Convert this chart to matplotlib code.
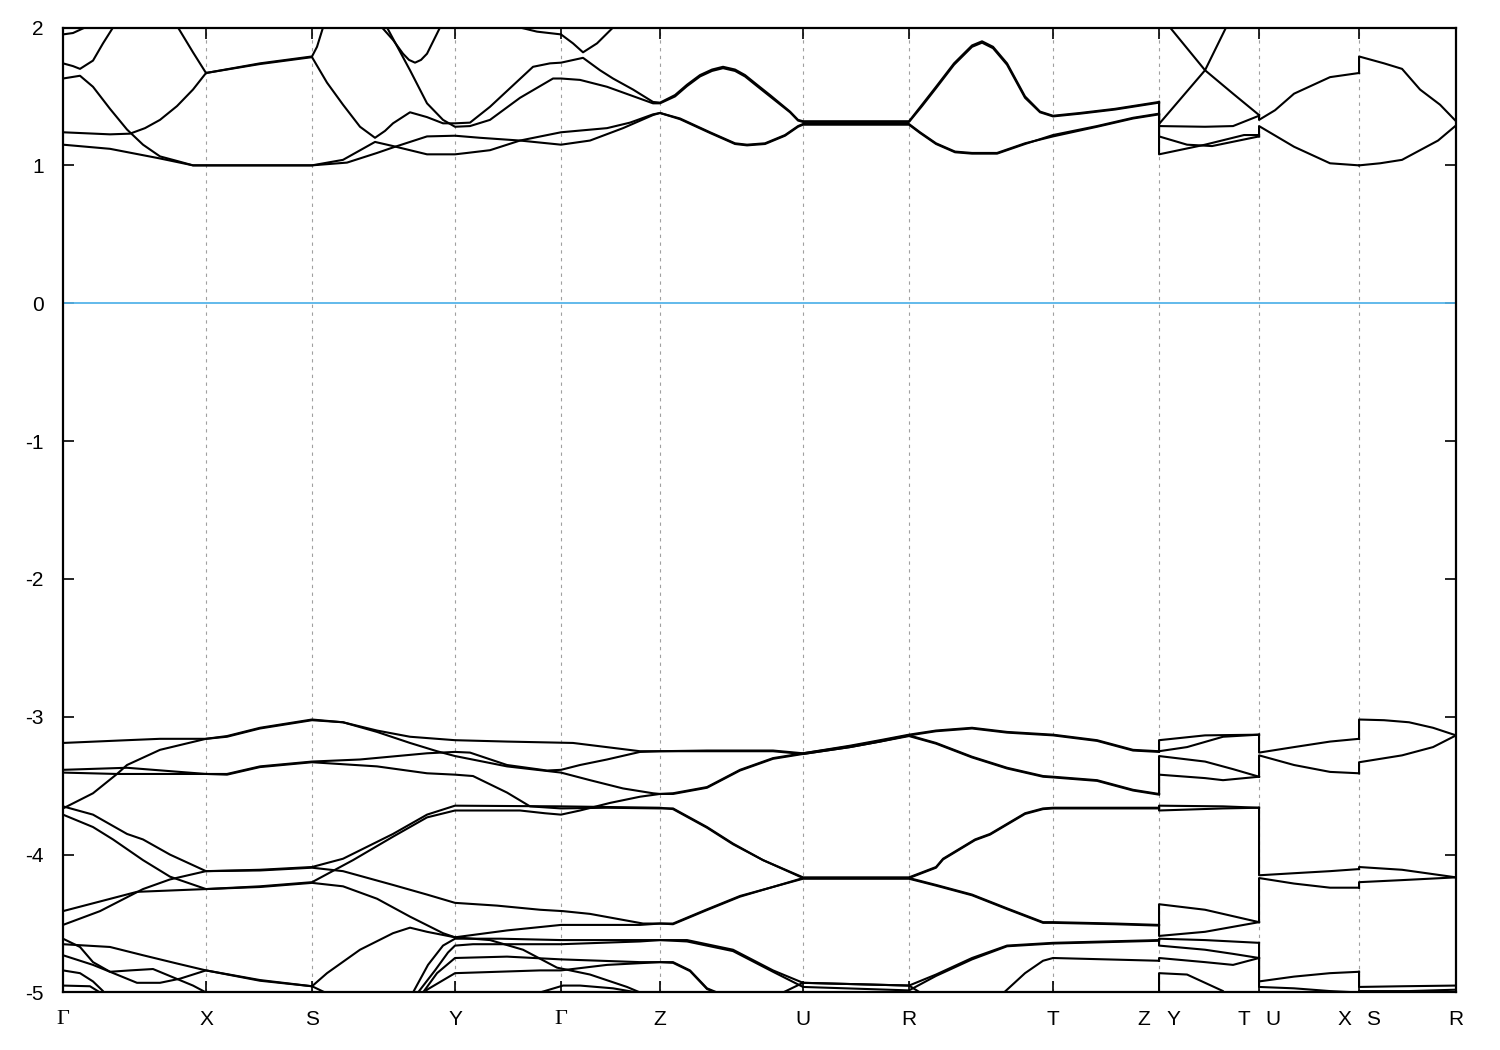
import matplotlib
matplotlib.use("Agg")
import matplotlib.pyplot as plt

# high-symmetry points along the k-path (path distance, arbitrary units)
kpts = [0, 143, 249, 392, 498, 597, 740, 846, 990, 1096, 1196, 1296, 1393]
klabels = ["Γ", "X", "S", "Y", "Γ", "Z", "U", "R", "T", ("Z", "Y"), ("T", "U"), ("X", "S"), "R"]

# ---- conduction bands (eV), path Γ-X-S-Y-Γ-Z-U-R-T-Z ----
cond_A = [
    ([0, 10, 22, 30], [1.95, 1.96, 2.00, 2.05]),
    ([0, 10, 17, 30, 40, 50, 55], [1.74, 1.72, 1.70, 1.76, 1.885, 2.00, 2.05]),
    ([0, 17, 30, 47, 64, 80, 97, 115, 130, 143, 249, 284, 314, 330, 364, 392, 417, 457, 498, 527, 560, 590, 597,
      617, 647, 672, 684, 702, 722, 735, 740, 846, 857, 873, 892, 909, 934, 962, 990, 1034, 1070, 1096],
     [1.63, 1.65, 1.57, 1.41, 1.26, 1.15, 1.065, 1.03, 1.00, 1.00, 1.00, 1.02, 1.09, 1.13, 1.21, 1.215, 1.20, 1.18,
      1.15, 1.18, 1.27, 1.365, 1.38, 1.34, 1.24, 1.16, 1.15, 1.16, 1.22, 1.285, 1.30, 1.30, 1.24, 1.16, 1.10, 1.09,
      1.09, 1.16, 1.21, 1.28, 1.34, 1.37]),
    ([0, 47, 97, 130, 143, 249, 280, 312, 330, 364, 392, 404, 427, 457, 498, 544, 567, 590, 597, 617, 647, 672, 684,
      702, 722, 735, 740, 846, 857, 873, 892, 909, 934, 962, 990, 1034, 1070, 1096],
     [1.15, 1.12, 1.05, 1.00, 1.00, 1.00, 1.04, 1.17, 1.14, 1.08, 1.08, 1.09, 1.11, 1.18, 1.24, 1.27, 1.31, 1.37,
      1.38, 1.335, 1.235, 1.155, 1.145, 1.155, 1.215, 1.28, 1.295, 1.295, 1.235, 1.155, 1.095, 1.085, 1.085, 1.155,
      1.22, 1.285, 1.345, 1.375]),
    ([0, 47, 67, 82, 97, 114, 130, 143, 197, 249, 254, 260, 262],
     [1.24, 1.225, 1.23, 1.27, 1.33, 1.43, 1.55, 1.67, 1.74, 1.79, 1.86, 2.00, 2.05]),
    ([112, 115, 130, 143, 197, 249, 264, 280, 297, 312, 322, 330, 347, 364, 380, 392, 407, 427, 447, 470, 487, 498,
      520, 537, 550, 570, 590, 597, 612, 624, 637, 649, 660, 672, 682, 694, 707, 727, 735, 740, 846, 859, 873, 891,
      909, 919, 930, 944, 962, 977, 990, 1017, 1052, 1096],
     [2.05, 2.00, 1.82, 1.67, 1.735, 1.785, 1.60, 1.44, 1.28, 1.20, 1.25, 1.305, 1.385, 1.35, 1.305, 1.305, 1.31,
      1.425, 1.56, 1.715, 1.74, 1.745, 1.78, 1.69, 1.63, 1.55, 1.46, 1.455, 1.51, 1.585, 1.655, 1.695, 1.715, 1.695,
      1.655, 1.585, 1.51, 1.39, 1.33, 1.32, 1.32, 1.44, 1.57, 1.74, 1.87, 1.90, 1.86, 1.74, 1.50, 1.39, 1.36, 1.38,
      1.41, 1.46]),
    ([320, 324, 347, 364, 380, 392, 407, 427, 457, 490, 498, 517, 544, 567, 590, 597, 612, 624, 637, 649, 660, 672,
      682, 694, 707, 727, 735, 740, 846, 859, 873, 891, 909, 919, 930, 944, 962, 977, 990, 1017, 1052, 1096],
     [2.05, 2.00, 1.69, 1.45, 1.33, 1.28, 1.285, 1.33, 1.49, 1.63, 1.63, 1.62, 1.57, 1.51, 1.45, 1.45, 1.50, 1.575,
      1.645, 1.685, 1.705, 1.685, 1.645, 1.575, 1.50, 1.385, 1.325, 1.315, 1.315, 1.43, 1.56, 1.73, 1.86, 1.89,
      1.85, 1.73, 1.49, 1.385, 1.355, 1.375, 1.405, 1.455]),
    ([317, 319, 330, 340, 346, 352, 358, 364, 377, 379], [2.05, 2.00, 1.91, 1.81, 1.765, 1.745, 1.765, 1.81, 2.00, 2.05]),
    ([455, 457, 474, 498, 510, 520, 534, 550, 552], [2.05, 2.00, 1.97, 1.95, 1.885, 1.82, 1.885, 2.00, 2.05]),
]
# Y-T (first value repeats the band energy before the path break)
cond_B = [
    ([1096, 1096, 1142, 1163, 1167], [1.46, 1.30, 1.69, 2.00, 2.05]),
    ([1103, 1107, 1142, 1170, 1196], [2.05, 2.00, 1.69, 1.52, 1.365]),
    ([1096, 1096, 1142, 1170, 1196], [1.46, 1.285, 1.28, 1.285, 1.36]),
    ([1096, 1096, 1124, 1149, 1196], [1.37, 1.21, 1.15, 1.14, 1.21]),
    ([1096, 1096, 1142, 1181, 1196], [1.37, 1.08, 1.15, 1.22, 1.22]),
]
# U-X
cond_C = [
    ([1196, 1196, 1212, 1231, 1267, 1296], [1.365, 1.33, 1.40, 1.52, 1.64, 1.67]),
    ([1196, 1196, 1231, 1267, 1296], [1.21, 1.285, 1.135, 1.015, 1.00]),
]
# S-R
cond_D = [
    ([1296, 1296, 1321, 1339, 1357, 1377, 1393], [1.67, 1.79, 1.74, 1.70, 1.55, 1.44, 1.32]),
    ([1296, 1317, 1339, 1357, 1375, 1393], [1.00, 1.015, 1.04, 1.11, 1.18, 1.29]),
]

# ---- valence bands (eV) ----
val_A = [
    ([0, 64, 97, 143, 164, 197, 249, 280, 314, 347, 392, 444, 510, 577, 597, 644, 710, 740, 787, 817, 846, 873, 909,
      944, 990, 1034, 1070, 1096],
     [-3.19, -3.17, -3.16, -3.16, -3.14, -3.08, -3.02, -3.04, -3.10, -3.145, -3.17, -3.18, -3.19, -3.25, -3.25,
      -3.245, -3.245, -3.265, -3.21, -3.17, -3.13, -3.10, -3.08, -3.11, -3.13, -3.17, -3.24, -3.25]),
    ([0, 30, 54, 64, 97, 143, 164, 197, 249, 280, 314, 347, 374, 392, 444, 498, 527, 560, 590, 597, 610, 644, 677,
      710, 740, 787, 817, 846, 873, 909, 944, 980, 990, 1034, 1070, 1096],
     [-3.665, -3.555, -3.415, -3.35, -3.24, -3.16, -3.145, -3.085, -3.025, -3.04, -3.11, -3.19, -3.25, -3.285,
      -3.36, -3.405, -3.46, -3.52, -3.555, -3.56, -3.555, -3.51, -3.385, -3.30, -3.265, -3.215, -3.175, -3.135,
      -3.19, -3.29, -3.37, -3.43, -3.435, -3.46, -3.53, -3.56]),
    ([0, 64, 143, 164, 197, 249, 297, 364, 392, 407, 444, 484, 498, 517, 544, 577, 597, 644, 710, 740, 787, 817,
      846, 873, 909, 944, 990, 1034, 1070, 1096],
     [-3.385, -3.37, -3.415, -3.415, -3.36, -3.325, -3.31, -3.265, -3.255, -3.26, -3.35, -3.39, -3.385, -3.35,
      -3.31, -3.255, -3.25, -3.25, -3.25, -3.27, -3.22, -3.18, -3.135, -3.105, -3.085, -3.115, -3.135, -3.175,
      -3.245, -3.255]),
    ([0, 54, 143, 164, 197, 249, 314, 364, 392, 410, 444, 467, 498, 544, 597, 610, 644, 670, 700, 740, 846, 873,
      880, 912, 927, 962, 980, 990, 1096],
     [-3.405, -3.415, -3.415, -3.42, -3.365, -3.33, -3.36, -3.41, -3.42, -3.43, -3.55, -3.65, -3.665, -3.66,
      -3.665, -3.665, -3.80, -3.92, -4.04, -4.165, -4.165, -4.09, -4.03, -3.89, -3.85, -3.70, -3.665, -3.66, -3.66]),
    ([0, 30, 64, 80, 107, 137, 143, 197, 249, 280, 330, 364, 392, 498, 597, 610, 644, 670, 700, 740, 846, 873, 909,
      944, 980, 990, 1052, 1096],
     [-3.65, -3.71, -3.85, -3.89, -4.00, -4.10, -4.12, -4.11, -4.09, -4.03, -3.85, -3.71, -3.645, -3.65, -3.66,
      -3.67, -3.805, -3.925, -4.04, -4.17, -4.17, -4.22, -4.29, -4.39, -4.49, -4.49, -4.50, -4.51]),
    ([0, 30, 50, 80, 107, 143, 197, 249, 290, 330, 364, 392, 457, 482, 498, 517, 547, 577, 597, 610, 644, 677, 710,
      740, 787, 817, 846, 873, 909, 944, 980, 990, 1034, 1070, 1096],
     [-3.71, -3.80, -3.89, -4.04, -4.16, -4.25, -4.23, -4.20, -4.04, -3.87, -3.73, -3.68, -3.68, -3.70, -3.71,
      -3.68, -3.625, -3.58, -3.56, -3.56, -3.515, -3.39, -3.305, -3.27, -3.22, -3.18, -3.14, -3.195, -3.295,
      -3.375, -3.435, -3.44, -3.465, -3.535, -3.565]),
    ([0, 37, 74, 143, 197, 249, 280, 314, 347, 380, 392, 444, 498, 577, 597, 610, 643, 677, 740, 846, 873, 909, 944,
      980, 990, 1052, 1096],
     [-4.41, -4.34, -4.27, -4.25, -4.235, -4.205, -4.23, -4.32, -4.45, -4.57, -4.60, -4.55, -4.51, -4.51, -4.50,
      -4.50, -4.40, -4.30, -4.175, -4.175, -4.225, -4.295, -4.395, -4.495, -4.495, -4.505, -4.515]),
    ([0, 37, 80, 107, 143, 197, 249, 280, 330, 364, 392, 434, 477, 500, 527, 580, 597, 610, 643, 677, 740, 846, 873,
      880, 912, 927, 962, 980, 990, 1096],
     [-4.51, -4.41, -4.25, -4.18, -4.12, -4.115, -4.095, -4.12, -4.22, -4.29, -4.35, -4.37, -4.40, -4.41, -4.43,
      -4.50, -4.50, -4.505, -4.405, -4.305, -4.17, -4.17, -4.095, -4.035, -3.895, -3.855, -3.705, -3.67, -3.665,
      -3.665]),
    ([0, 17, 30, 47, 67, 90, 110, 130, 143, 150], [-4.61, -4.67, -4.78, -4.85, -4.84, -4.83, -4.89, -4.95, -5.00, -5.05]),
    ([0, 47, 80, 114, 143, 197, 249, 264, 297, 330, 347, 364, 392, 427, 460, 494, 527, 564, 577, 587],
     [-4.65, -4.67, -4.73, -4.79, -4.84, -4.91, -4.955, -4.86, -4.69, -4.57, -4.53, -4.56, -4.60, -4.62, -4.69,
      -4.82, -4.87, -4.96, -5.00, -5.05]),
    ([0, 30, 47, 74, 97, 117, 143, 197, 249, 262, 270],
     [-4.73, -4.80, -4.85, -4.93, -4.93, -4.90, -4.84, -4.915, -4.955, -5.00, -5.05]),
    ([0, 17, 30, 40, 45], [-4.84, -4.86, -4.92, -4.99, -5.05]),
    ([0, 27, 37, 40], [-4.95, -4.955, -5.00, -5.05]),
    ([345, 350, 365, 380, 392, 437, 498, 597, 624, 670, 710, 740, 846, 873, 909, 944, 990, 1096],
     [-5.05, -5.00, -4.80, -4.66, -4.61, -4.61, -4.62, -4.62, -4.62, -4.69, -4.84, -4.93, -4.95, -4.87, -4.75,
      -4.66, -4.64, -4.62]),
    ([350, 355, 372, 385, 392, 410, 498, 577, 597, 624, 670, 710, 740, 846, 873, 909, 944, 990, 1096],
     [-5.05, -5.00, -4.84, -4.71, -4.66, -4.65, -4.65, -4.63, -4.62, -4.63, -4.70, -4.85, -4.96, -4.985, -4.88,
      -4.76, -4.665, -4.645, -4.625]),
    ([355, 360, 374, 392, 444, 498, 577, 597, 610, 627, 644, 654, 660],
     [-5.05, -5.00, -4.86, -4.75, -4.74, -4.76, -4.78, -4.78, -4.78, -4.84, -4.97, -5.00, -5.05]),
    ([360, 364, 392, 477, 498, 544, 597, 610, 627, 644, 654, 660],
     [-5.02, -4.98, -4.86, -4.84, -4.84, -4.80, -4.78, -4.785, -4.845, -4.975, -5.005, -5.05]),
    ([712, 720, 740, 846, 857, 862], [-5.05, -5.00, -4.93, -4.95, -5.00, -5.05]),
    ([937, 941, 962, 980, 990, 1096], [-5.05, -5.00, -4.86, -4.77, -4.75, -4.77]),
    ([470, 477, 500, 517, 550, 574, 580], [-5.05, -5.00, -4.95, -4.95, -4.97, -5.00, -5.05]),
]
val_B = [
    ([1096, 1096, 1142, 1196], [-3.25, -3.17, -3.135, -3.13]),
    ([1096, 1124, 1160, 1196], [-3.25, -3.22, -3.145, -3.13]),
    ([1096, 1096, 1142, 1170, 1196], [-3.56, -3.285, -3.325, -3.38, -3.435]),
    ([1096, 1096, 1142, 1160, 1196], [-3.56, -3.42, -3.445, -3.46, -3.435]),
    ([1096, 1096, 1160, 1196], [-3.66, -3.645, -3.65, -3.66]),
    ([1096, 1096, 1160, 1196], [-3.66, -3.68, -3.665, -3.66]),
    ([1096, 1096, 1142, 1196], [-4.51, -4.36, -4.40, -4.49]),
    ([1096, 1096, 1142, 1196], [-4.51, -4.59, -4.56, -4.49]),
    ([1096, 1096, 1142, 1196], [-4.62, -4.61, -4.62, -4.64]),
    ([1096, 1096, 1142, 1170, 1196], [-4.62, -4.66, -4.69, -4.72, -4.75]),
    ([1096, 1096, 1142, 1170, 1196], [-4.77, -4.75, -4.78, -4.80, -4.75]),
    ([1096, 1096, 1124, 1160, 1165], [-5.05, -4.86, -4.87, -4.99, -5.05]),
]
val_C = [
    ([1196, 1196, 1231, 1267, 1296], [-3.13, -3.26, -3.22, -3.18, -3.16]),
    ([1196, 1196, 1231, 1267, 1296], [-3.435, -3.28, -3.35, -3.40, -3.41]),
    ([1196, 1196, 1231, 1267, 1296], [-3.66, -4.15, -4.135, -4.12, -4.105]),
    ([1196, 1196, 1231, 1267, 1296], [-4.49, -4.17, -4.21, -4.24, -4.24]),
    ([1196, 1196, 1231, 1267, 1296], [-4.64, -4.92, -4.885, -4.86, -4.85]),
    ([1196, 1196, 1231, 1267, 1296], [-4.75, -4.96, -4.97, -4.99, -5.00]),
]
val_D = [
    ([1296, 1296, 1321, 1346, 1370, 1393], [-3.16, -3.02, -3.025, -3.04, -3.08, -3.135]),
    ([1296, 1296, 1339, 1370, 1393], [-3.41, -3.33, -3.28, -3.22, -3.135]),
    ([1296, 1296, 1339, 1393], [-4.105, -4.09, -4.11, -4.165]),
    ([1296, 1296, 1339, 1393], [-4.24, -4.20, -4.185, -4.165]),
    ([1296, 1296, 1339, 1393], [-4.85, -4.96, -4.955, -4.95]),
    ([1296, 1296, 1346, 1393], [-5.00, -4.99, -4.99, -4.98]),
]

plt.rcParams['font.family'] = ['Liberation Sans', 'DejaVu Sans']

fig = plt.figure(figsize=(15, 10.5), dpi=100)
ax = fig.add_axes([0.042, 0.0548, 0.9287, 0.919])

# dashed lines at the high-symmetry points
for k in kpts[1:-1]:
    ax.axvline(k, color='#a0a0a0', lw=0.8, ls=(0, (3, 4)), zorder=1)

ax.axhline(0, color='#56b4e9', lw=1.3, zorder=2)

for group in [cond_A, cond_B, cond_C, cond_D, val_A, val_B, val_C, val_D]:
    for ks, es in group:
        ax.plot(ks, es, color='black', lw=1.5, zorder=3, solid_joinstyle='round')

ax.set_xlim(kpts[0], kpts[-1])
ax.set_ylim(-5, 2)
ax.set_yticks(range(-5, 3))
ax.set_yticklabels([str(v) for v in range(-5, 3)], fontsize=15)
ax.set_xticks(kpts)
ax.set_xticklabels([])
ax.tick_params(axis='both', direction='in', length=8, width=1.2, top=True, right=True)
ax.tick_params(axis='y', pad=14)
for sp in ax.spines.values():
    sp.set_linewidth(1.6)

# labels of the k-path
tr = ax.get_xaxis_transform()
for k, lab in zip(kpts, klabels):
    if isinstance(lab, tuple):
        ax.text(k - 15, -0.0285, lab[0], transform=tr, ha='center', va='center', fontsize=15)
        ax.text(k + 14, -0.0285, lab[1], transform=tr, ha='center', va='center', fontsize=15)
    elif lab == "Γ":
        ax.text(k, -0.0285, lab, transform=tr, ha='center', va='center', fontsize=16,
                family=['Liberation Serif', 'DejaVu Serif'])
    else:
        ax.text(k, -0.0285, lab, transform=tr, ha='center', va='center', fontsize=15)

fig.savefig("out.png", dpi=100)
